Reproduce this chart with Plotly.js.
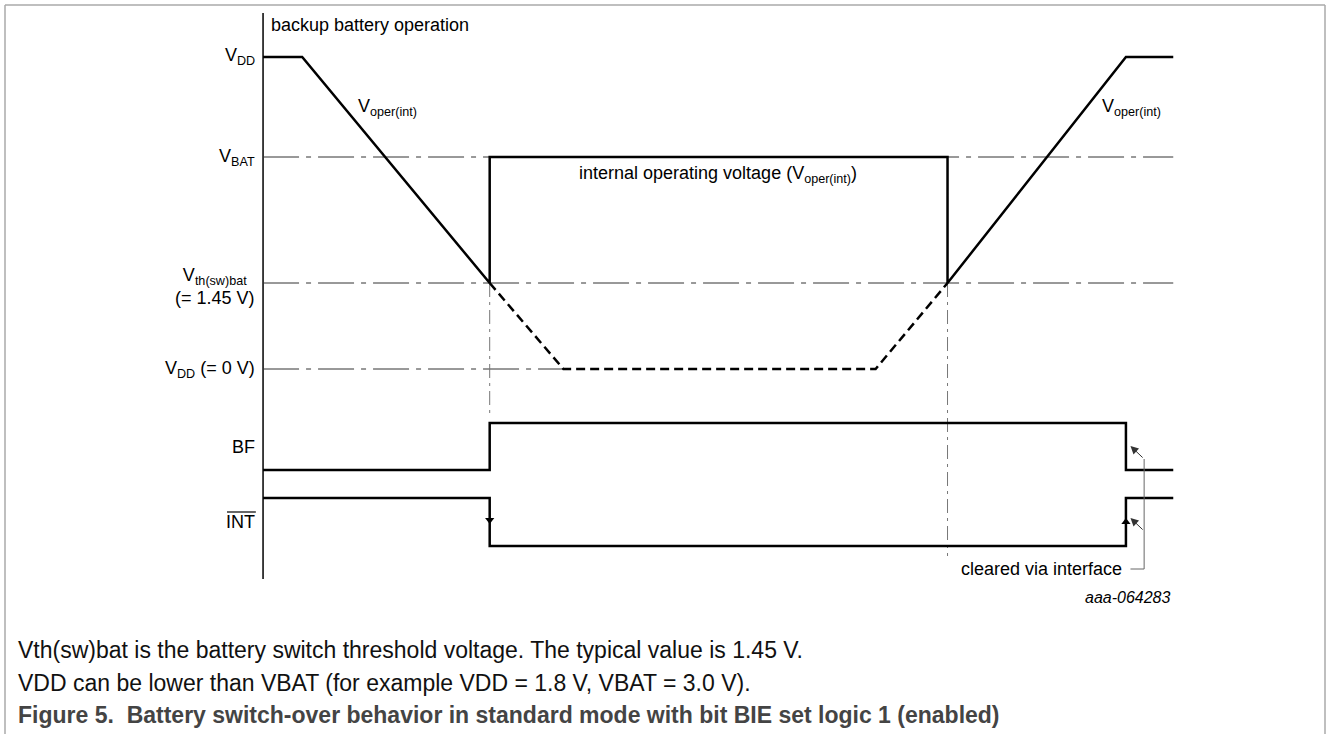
<!DOCTYPE html>
<html>
<head>
<meta charset="utf-8">
<script src="https://cdn.plot.ly/plotly-3.0.1.min.js"></script>
<style>
  html, body { margin: 0; padding: 0; background: #fff; }
  #chart { width: 1328px; height: 734px; }
</style>
</head>
<body>
<div id="chart"></div>
<script>
// ---- time instants of the diagram (arbitrary time units, 0 = start, 100 = end) ----
const T_START = 0;
const T_FALL = 4.3;      // VDD starts to fall
const T_SW1 = 24.9;      // switch-over to battery
const T_DDLOW1 = 33.0;   // VDD reaches 0 V
const T_DDLOW2 = 67.3;   // VDD starts to rise again
const T_SW2 = 75.2;      // switch back to VDD
const T_CLR = 94.8;      // flags cleared via interface
const T_END = 100;

// ---- signal levels (arbitrary diagram units, 0 = VDD (= 0 V)) ----
const L_VDD = 31.2;
const L_VBAT = 21.2;
const L_VTH = 8.6;
const L_V0 = 0;
const L_BF_HI = -5.4;
const L_BF_LO = -10.1;
const L_INT_HI = -12.9;
const L_INT_LO = -17.7;

// ---- waveforms ----
const voperT = [T_START, T_FALL, T_SW1, T_SW1, T_SW2, T_SW2, T_CLR, T_END];
const voperV = [L_VDD, L_VDD, L_VTH, L_VBAT, L_VBAT, L_VTH, L_VDD, L_VDD];
const vddDropT = [T_SW1, T_DDLOW1, T_DDLOW2, T_SW2];
const vddDropV = [L_VTH, L_V0, L_V0, L_VTH];
const bfT = [T_START, T_SW1, T_SW1, T_CLR, T_CLR, T_END];
const bfV = [L_BF_LO, L_BF_LO, L_BF_HI, L_BF_HI, L_BF_LO, L_BF_LO];
const intT = [T_START, T_SW1, T_SW1, T_CLR, T_CLR, T_END];
const intV = [L_INT_HI, L_INT_HI, L_INT_LO, L_INT_LO, L_INT_HI, L_INT_HI];

// ---- reference levels (dash-dot) ----
const refVbatT = [T_START, T_END];
const refVthT = [T_START, T_END];
const refV0T = [T_START, T_DDLOW1];

// ---- vertical markers ----
const mark1V = [L_VTH, -4.7];
const mark2V = [L_VTH, -18.7];

// ---- vertical axis of the diagram ----
const axisV = [35.6, -21.0];

// ---- interrupt edge arrows ----
const edgeArrowT = [T_SW1, T_CLR];
const edgeArrowV = [-15.1, -15.3];
const edgeArrowSym = ['triangle-down', 'triangle-up'];

// ---- callout "cleared via interface" ----
const calloutT = [95.3, 96.8, 96.8];
const calloutV = [-20.0, -20.0, -9.0];
const calloutTipT = [95.3, 95.3];
const calloutTipV = [-7.7, -14.9];
const calloutTailT = [96.8, 96.8];
const calloutTailV = [-9.0, -16.2];

// ---- texts ----
const levelLabels = ['V<sub>DD</sub>', 'V<sub>BAT</sub>', 'V<sub>th(sw)bat</sub><br>(= 1.45 V)', 'V<sub>DD</sub> (= 0 V)', 'BF', 'INT'];
const notes = [
  'Vth(sw)bat is the battery switch threshold voltage. The typical value is 1.45 V.',
  'VDD can be lower than VBAT (for example VDD = 1.8 V, VBAT = 3.0 V).'
];
const caption = 'Figure 5.\u00a0 Battery switch-over behavior in standard mode with bit BIE set logic 1 (enabled)';

const W = 1328, H = 734;
const FONT = 'Liberation Sans, Arial, Helvetica, sans-serif';
const line = (x, y, opts) => Object.assign({
  x: x, y: y, type: 'scatter', mode: 'lines', hoverinfo: 'skip', showlegend: false
}, opts);

const traces = [
  line([T_START, T_START], axisV, {line: {color: '#000', width: 1.5}}),
  line(refVbatT, [L_VBAT, L_VBAT], {line: {color: '#333', width: 1, dash: '36px,7px,5px,7px'}}),
  line(refVthT, [L_VTH, L_VTH], {line: {color: '#333', width: 1, dash: '36px,7px,5px,7px'}}),
  line(refV0T, [L_V0, L_V0], {line: {color: '#333', width: 1, dash: '36px,7px,5px,7px'}}),
  line([T_SW1, T_SW1], mark1V, {line: {color: '#777', width: 1, dash: '14px,5px,3px,5px'}}),
  line([T_SW2, T_SW2], mark2V, {line: {color: '#777', width: 1, dash: '14px,5px,3px,5px'}}),
  line(vddDropT, vddDropV, {line: {color: '#000', width: 2.5, dash: '9px,5px'}}),
  line(voperT, voperV, {line: {color: '#000', width: 2.5}}),
  line(bfT, bfV, {line: {color: '#000', width: 2.5}}),
  line(intT, intV, {line: {color: '#000', width: 2.5}}),
  line(calloutT, calloutV, {line: {color: '#666', width: 1}}),
  {x: edgeArrowT, y: edgeArrowV, type: 'scatter', mode: 'markers', hoverinfo: 'skip', showlegend: false,
   marker: {symbol: edgeArrowSym, size: 8, color: '#000'}}
];

const P = (px, py) => ({x: px / W, y: 1 - py / H, xref: 'paper', yref: 'paper'});
const txt = (px, py, text, xanchor, extra) => Object.assign(P(px, py), {
  text: text, showarrow: false, xanchor: xanchor, yanchor: 'middle',
  font: {family: FONT, size: 18, color: '#000'}
}, extra || {});

const labelY = [57, 157, 287, 369, 447, 522];
const annotations = [];
levelLabels.forEach((t, i) => annotations.push(txt(257, labelY[i], t, 'right')));
annotations.push(txt(269, 25, 'backup battery operation', 'left'));
annotations.push(txt(356, 108, 'V<sub>oper(int)</sub>', 'left'));
annotations.push(txt(1100, 108, 'V<sub>oper(int)</sub>', 'left'));
annotations.push(txt(718, 174, 'internal operating voltage (V<sub>oper(int)</sub>)', 'center'));
annotations.push(txt(1124, 569, 'cleared via interface', 'right'));
annotations.push(txt(1173, 597, 'aaa-064283', 'right', {font: {family: FONT, size: 16, color: '#000', style: 'italic'}}));
annotations.push(txt(16, 650, notes[0], 'left', {font: {family: FONT, size: 23, color: '#111'}}));
annotations.push(txt(16, 683, notes[1], 'left', {font: {family: FONT, size: 23, color: '#111'}}));
annotations.push(txt(16, 715, '<b>' + caption + '</b>', 'left', {font: {family: FONT, size: 23, color: '#444'}}));

calloutTipT.forEach((t, i) => annotations.push({
  x: t, y: calloutTipV[i], ax: calloutTailT[i], ay: calloutTailV[i],
  xref: 'x', yref: 'y', axref: 'x', ayref: 'y', text: '', showarrow: true,
  arrowhead: 2, arrowsize: 1.6, arrowwidth: 1, arrowcolor: '#333', standoff: 0
}));

const shapes = [
  // figure frame
  {type: 'line', xref: 'paper', yref: 'paper', x0: 5 / W, x1: 1325 / W, y0: 1 - 5 / H, y1: 1 - 5 / H, line: {color: '#aaa', width: 1.5}},
  {type: 'line', xref: 'paper', yref: 'paper', x0: 5 / W, x1: 5 / W, y0: 1 - 5 / H, y1: 0, line: {color: '#aaa', width: 1.5}},
  {type: 'line', xref: 'paper', yref: 'paper', x0: 1325 / W, x1: 1325 / W, y0: 1 - 5 / H, y1: 0, line: {color: '#aaa', width: 1.5}},
  // overline of INT
  {type: 'line', xref: 'paper', yref: 'paper', x0: 227 / W, x1: 256 / W, y0: 1 - 512 / H, y1: 1 - 512 / H, line: {color: '#000', width: 1.2}}
];

const layout = {
  width: W, height: H,
  margin: {l: 0, r: 0, t: 0, b: 0, pad: 0},
  paper_bgcolor: '#fff', plot_bgcolor: '#fff',
  showlegend: false,
  xaxis: {range: [-28.9, 117.0], visible: false, fixedrange: true},
  yaxis: {range: [-36.5, 36.9], visible: false, fixedrange: true},
  annotations: annotations,
  shapes: shapes,
  font: {family: FONT}
};

Plotly.newPlot('chart', traces, layout, {displayModeBar: false, staticPlot: true});
</script>
</body>
</html>
